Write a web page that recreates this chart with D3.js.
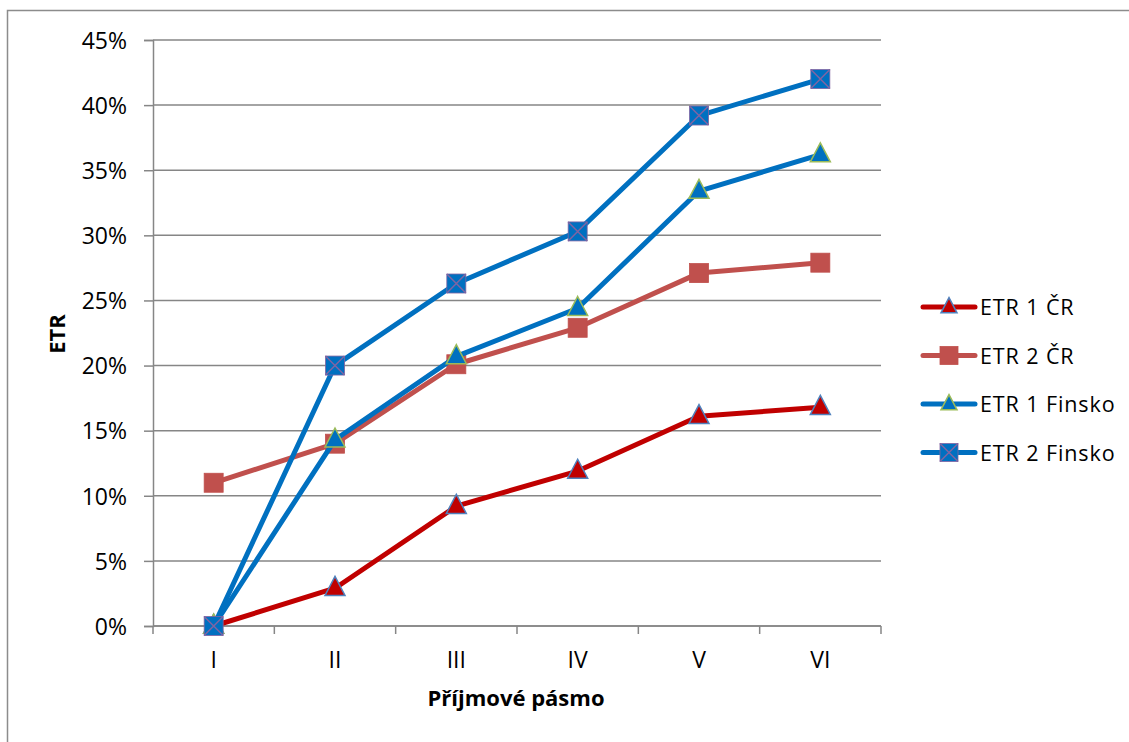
<!DOCTYPE html>
<html>
<head>
<meta charset="utf-8">
<script src="https://cdn.jsdelivr.net/npm/d3@7"></script>
<style>
  html, body { margin: 0; padding: 0; background: #fff; overflow: hidden; }
  svg { display: block; font-family: "Open Sans", "DejaVu Sans", sans-serif; }
</style>
</head>
<body>
<svg id="chart" width="1129" height="742"></svg>
<script>
// Income bands and effective tax rates (%)
const categories = ["I", "II", "III", "IV", "V", "VI"];
const etr1CR = [0, 2.9, 9.2, 11.9, 16.1, 16.8];
const etr2CR = [11.0, 14.0, 20.1, 22.9, 27.1, 27.9];
const etr1Fin = [0, 14.3, 20.7, 24.4, 33.4, 36.2];
const etr2Fin = [0, 20.0, 26.3, 30.3, 39.2, 42.0];
const yTicks = [0, 5, 10, 15, 20, 25, 30, 35, 40, 45];
const seriesNames = ["ETR 1 ČR", "ETR 2 ČR", "ETR 1 Finsko", "ETR 2 Finsko"];

const series = [
  { name: seriesNames[0], values: etr1CR, color: "#C00000", marker: "triangle", mFill: "#C00000", mStroke: "#4F81BD" },
  { name: seriesNames[1], values: etr2CR, color: "#C0504D", marker: "square", mFill: "#C0504D", mStroke: "#C0504D" },
  { name: seriesNames[2], values: etr1Fin, color: "#0070C0", marker: "triangle", mFill: "#0070C0", mStroke: "#9BBB59" },
  { name: seriesNames[3], values: etr2Fin, color: "#0070C0", marker: "xsquare", mFill: "#0070C0", mStroke: "#8064A2" }
];

const FONT = "'Open Sans', 'DejaVu Sans', sans-serif";
const svg = d3.select("#chart");
const plot = { left: 153, right: 881, top: 40, bottom: 626 };

// chart frame (continues past the right and bottom edges)
svg.append("rect")
  .attr("x", 7.5).attr("y", 10.5).attr("width", 1140).attr("height", 760)
  .attr("fill", "none").attr("stroke", "#8c8c8c").attr("stroke-width", 1.5);

const x = d3.scaleBand().domain(categories).range([plot.left, plot.right]).padding(0);
const y = d3.scaleLinear().domain([0, 45]).range([plot.bottom, plot.top]);
const cx = c => x(c) + x.bandwidth() / 2;

// gridlines
svg.append("g").selectAll("line").data(yTicks).join("line")
  .attr("x1", plot.left).attr("x2", plot.right)
  .attr("y1", d => y(d)).attr("y2", d => y(d))
  .attr("stroke", "#868686").attr("stroke-width", 1.5);

// y axis
const yAxis = svg.append("g").attr("transform", `translate(${plot.left},0)`)
  .call(d3.axisLeft(y).tickValues(yTicks).tickFormat(d => d + "%").tickSize(9).tickPadding(17));
yAxis.attr("font-family", FONT).attr("font-size", 23);
yAxis.select(".domain").attr("stroke", "#868686").attr("stroke-width", 1.5);
yAxis.selectAll(".tick line").attr("stroke", "#868686").attr("stroke-width", 1.5);
yAxis.selectAll("text").attr("fill", "#000").attr("dy", "0.36em");

// x axis: ticks at band boundaries
const xAxisG = svg.append("g").attr("transform", `translate(0,${plot.bottom})`);
xAxisG.append("line").attr("x1", plot.left).attr("x2", plot.right)
  .attr("stroke", "#868686").attr("stroke-width", 1.5);
const bounds = categories.map(c => x(c)).concat([plot.right]);
xAxisG.selectAll("line.tk").data(bounds).join("line").attr("class", "tk")
  .attr("x1", d => d).attr("x2", d => d).attr("y1", 0).attr("y2", 8)
  .attr("stroke", "#868686").attr("stroke-width", 1.5);
xAxisG.selectAll("text").data(categories).join("text")
  .attr("x", d => cx(d)).attr("y", 42).attr("text-anchor", "middle")
  .attr("font-family", FONT).attr("font-size", 23).attr("fill", "#000").text(d => d);

// axis titles
svg.append("text").attr("transform", `translate(57,${(plot.top + plot.bottom) / 2 + 1}) rotate(-90)`)
  .attr("text-anchor", "middle").attr("dy", "0.36em")
  .attr("font-family", FONT).attr("font-size", 22).attr("font-weight", "bold").text("ETR");
svg.append("text").attr("x", 516).attr("y", 706)
  .attr("text-anchor", "middle").attr("font-family", FONT)
  .attr("font-size", 22).attr("font-weight", "bold").text("Příjmové pásmo");

function drawMarker(g, s, px, py, size) {
  if (s.marker === "triangle") {
    const h = size * 0.95;
    g.append("path")
      .attr("d", `M${px},${py - h * 0.62} L${px + size / 2},${py + h * 0.38} L${px - size / 2},${py + h * 0.38} Z`)
      .attr("fill", s.mFill).attr("stroke", s.mStroke).attr("stroke-width", 1.5);
  } else {
    g.append("rect").attr("x", px - size / 2).attr("y", py - size / 2)
      .attr("width", size).attr("height", size)
      .attr("fill", s.mFill).attr("stroke", s.mStroke).attr("stroke-width", 0.8);
    if (s.marker === "xsquare") {
      const r = size / 2;
      g.append("path")
        .attr("d", `M${px - r},${py - r} L${px + r},${py + r} M${px + r},${py - r} L${px - r},${py + r}`)
        .attr("stroke", s.mStroke).attr("stroke-width", 1.5);
    }
  }
}

const line = d3.line().x((d, i) => cx(categories[i])).y(d => y(d));

// series lines and markers
series.forEach(s => {
  const g = svg.append("g");
  g.append("path").datum(s.values).attr("d", line)
    .attr("fill", "none").attr("stroke", s.color).attr("stroke-width", 5)
    .attr("stroke-linejoin", "round").attr("stroke-linecap", "round");
  s.values.forEach((v, i) => drawMarker(g, s, cx(categories[i]), y(v), s.marker === "triangle" ? 20 : 19));
});

// legend
const legend = svg.append("g");
series.forEach((s, i) => {
  const ly = 307 + i * 48.5;
  const g = legend.append("g");
  g.append("line").attr("x1", 923).attr("x2", 975).attr("y1", ly).attr("y2", ly)
    .attr("stroke", s.color).attr("stroke-width", 5).attr("stroke-linecap", "round");
  drawMarker(g, s, 949, ly, s.marker === "triangle" ? 16 : 18);
  g.append("text").attr("x", 980).attr("y", ly + 8)
    .attr("font-family", FONT).attr("font-size", 21.5).attr("letter-spacing", 0.9)
    .attr("fill", "#000").text(s.name);
});
</script>
</body>
</html>
